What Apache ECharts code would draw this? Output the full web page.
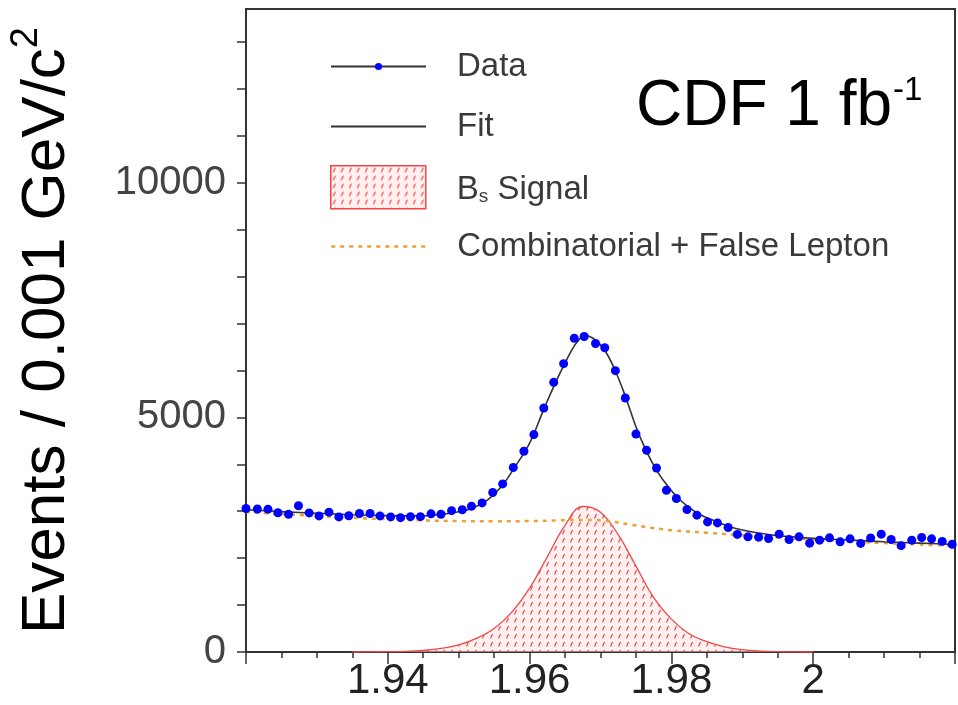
<!DOCTYPE html>
<html><head><meta charset="utf-8">
<script src="https://cdn.jsdelivr.net/npm/echarts@6/dist/echarts.min.js"></script>
<style>html,body{margin:0;padding:0;background:#fff}#c{width:958px;height:705px}</style>
</head><body><div id="c"></div>
<script>
// ---- data ----
const massX = [1.9200,1.9216,1.9231,1.9245,1.9260,1.9274,1.9289,1.9303,1.9317,1.9331,
  1.9345,1.9360,1.9375,1.9389,1.9404,1.9418,1.9432,1.9446,1.9461,1.9475,
  1.9490,1.9505,1.9518,1.9533,1.9548,1.9562,1.9577,1.9592,1.9606,1.9620,
  1.9634,1.9648,1.9663,1.9677,1.9693,1.9706,1.9721,1.9735,1.9750,1.9765,
  1.9779,1.9793,1.9807,1.9822,1.9836,1.9851,1.9865,1.9880,1.9893,1.9908,
  1.9923,1.9937,1.9952,1.9966,1.9980,1.9995,2.0009,2.0023,2.0038,2.0052,
  2.0067,2.0081,2.0096,2.0110,2.0124,2.0139,2.0153,2.0167,2.0182,2.0196];
const counts = [3057,3047,3043,2968,2936,3117,2964,2900,2979,2879,
  2904,2951,2951,2900,2879,2862,2883,2883,2943,2936,
  3011,3032,3106,3177,3398,3581,3930,4277,4632,5198,
  5745,6143,6685,6723,6574,6483,5994,5411,4645,4298,
  3921,3447,3270,3036,2915,2772,2751,2653,2506,2453,
  2447,2419,2511,2398,2453,2319,2383,2432,2347,2411,
  2313,2430,2511,2398,2266,2383,2440,2411,2357,2294];

const fitX = [1.920,1.925,1.930,1.935,1.940,1.944,1.947,1.950,1.952,1.954,1.956,1.958,1.960,1.962,1.964,1.966,1.967,1.9678,1.969,1.9705,1.972,1.9735,1.975,1.9765,1.978,1.9795,1.981,1.9825,1.984,1.986,1.988,1.990,1.993,1.996,2.000,2.005,2.010,2.015,2.020];
const fitY = [3030,2990,2955,2925,2905,2900,2925,2990,3070,3230,3520,3960,4450,5170,5850,6450,6660,6745,6680,6450,6020,5450,4800,4270,3850,3530,3270,3080,2930,2800,2680,2600,2520,2465,2420,2385,2350,2320,2290];

const signalX = [1.935,1.9375,1.940,1.9425,1.945,1.9475,1.950,1.9525,1.955,1.9575,1.960,1.9625,1.965,1.9675,1.970,1.9725,1.975,1.9775,1.980,1.9825,1.985,1.9875,1.990,1.9925,1.995,1.9975,2.000];
const signalY = [0,3,8,15,35,75,150,290,500,850,1360,2030,2700,3100,2980,2500,1830,1160,700,390,220,110,50,20,6,1,0];

const bkgX = [1.920,1.925,1.930,1.935,1.940,1.945,1.950,1.955,1.960,1.964,1.968,1.971,1.974,1.977,1.980,1.985,1.990,1.995,2.000,2.005,2.010,2.015,2.020];
const bkgY = [2985,2940,2900,2860,2830,2805,2790,2785,2790,2805,2815,2790,2720,2650,2595,2540,2490,2440,2395,2355,2320,2290,2260];

const xLabelValues = [1.94,1.96,1.98,2.00];
const yLabelValues = [0,5000,10000];
const yTickValues = [0,1000,2000,3000,4000,5000,6000,7000,8000,9000,10000,11000,12000,13000];

const zip = (a,b) => a.map((v,i)=>[v,b[i]]);
const FONT = "'Liberation Sans', Arial, sans-serif";

// hatch pattern for the signal area
const tile = document.createElement('canvas');
tile.width = 8; tile.height = 8;
const g = tile.getContext('2d');
g.fillStyle = 'rgba(255,228,228,0.5)'; g.fillRect(0,0,8,8);
g.strokeStyle = '#ff3a3a'; g.lineWidth = 1.1;
g.beginPath(); g.moveTo(2.5,6.5); g.lineTo(4.5,2); g.stroke();
const hatch = {image: tile, repeat: 'repeat'};

const chart = echarts.init(document.getElementById('c'), null, {renderer:'canvas'});
const legendText = {fontSize:33, color:'#3a3a3a', fontFamily:FONT, padding:[0,0,0,26]};
chart.setOption({
  animation:false,
  backgroundColor:'#fff',
  grid:{left:245, right:3, top:9, bottom:53, show:true, borderColor:'#333', borderWidth:2, containLabel:false},
  title:{
    text:'{a|CDF 1 fb}{s|-1}', left:631, top:64,
    textStyle:{fontWeight:'normal', rich:{
      a:{fontSize:64, color:'#000', fontWeight:'normal', fontFamily:FONT, verticalAlign:'bottom', lineHeight:70},
      s:{fontSize:33, color:'#000', fontWeight:'normal', fontFamily:FONT, verticalAlign:'top', lineHeight:34, padding:[5,0,0,1]}
    }}
  },
  legend:[
    {data:['Data'], left:330, top:50, padding:0, itemWidth:95, itemHeight:9, selectedMode:false,
     textStyle:legendText, lineStyle:{color:'#333', width:2, opacity:1}, itemStyle:{color:'#0000ff', opacity:1}},
    {data:['Fit'], left:330, top:110, padding:0, itemWidth:95, itemHeight:8, selectedMode:false,
     textStyle:legendText, lineStyle:{color:'#333', width:2, opacity:1}, itemStyle:{opacity:0}},
    {data:['Bs Signal'], left:330, top:165, padding:0, itemWidth:95, itemHeight:43, icon:'rect', selectedMode:false,
     itemStyle:{color:hatch, borderColor:'#ff4040', borderWidth:1.5},
     formatter:()=>'{a|B}{sub|s}{a| Signal}',
     textStyle:Object.assign({}, legendText, {rich:{
       a:{fontSize:33, color:'#3a3a3a', fontFamily:FONT, verticalAlign:'bottom', lineHeight:38},
       sub:{fontSize:19, color:'#3a3a3a', fontFamily:FONT, verticalAlign:'bottom', lineHeight:30}
     }})},
    {data:['Combinatorial + False Lepton'], left:330, top:230, padding:0, itemWidth:95, itemHeight:8, selectedMode:false,
     textStyle:legendText, lineStyle:{width:2.5, opacity:1}, itemStyle:{opacity:0}}
  ],
  xAxis:{
    type:'value', min:1.92, max:2.02, interval:0.02,
    axisLine:{show:true, onZero:false, lineStyle:{color:'#333', width:2}},
    axisTick:{show:true, length:12, lineStyle:{color:'#333', width:1.5}},
    minorTick:{show:true, splitNumber:4, length:6, lineStyle:{color:'#333', width:1.5}},
    axisLabel:{customValues:xLabelValues, formatter:v=>String(Math.round(v*100)/100), fontSize:42, color:'#222', margin:8, fontFamily:FONT},
    splitLine:{show:false}
  },
  yAxis:{
    type:'value', min:0, max:13700, interval:1000,
    axisLine:{show:true, lineStyle:{color:'#333', width:2}},
    axisTick:{show:true, length:9, customValues:yTickValues, lineStyle:{color:'#333', width:1.5}},
    axisLabel:{customValues:yLabelValues, formatter:v=>String(v), fontSize:40, color:'#444', margin:20, fontFamily:FONT},
    splitLine:{show:false},
    name:'{a|Events / 0.001 GeV/c}{sup|2}', nameLocation:'middle', nameGap:168, nameRotate:90,
    nameTextStyle:{rich:{
      a:{fontSize:62, color:'#000', fontFamily:FONT, verticalAlign:'bottom', lineHeight:70},
      sup:{fontSize:38, color:'#000', fontFamily:FONT, verticalAlign:'top', lineHeight:40}
    }}
  },
  series:[
    {name:'Bs Signal', type:'line', data:zip(signalX, signalY), smooth:0.4, symbol:'none',
     lineStyle:{color:'#f04848', width:1.3}, itemStyle:{color:'#f04848'}, areaStyle:{color:hatch, opacity:1}, z:1},
    {name:'Combinatorial + False Lepton', type:'line', data:zip(bkgX, bkgY), smooth:0.4, symbol:'none',
     lineStyle:{color:'#eba032', width:2.5, type:[4,5]}, itemStyle:{color:'#eba032'}, z:2},
    {name:'Fit', type:'line', data:zip(fitX, fitY), smooth:0.4, symbol:'none',
     lineStyle:{color:'#333', width:1.6}, itemStyle:{color:'#333'}, z:3},
    {name:'Data', type:'line', data:zip(massX, counts), symbol:'circle', symbolSize:9, showSymbol:true,
     lineStyle:{width:0, opacity:0}, itemStyle:{color:'#0000ff'}, z:4}
  ]
});
</script></body></html>
